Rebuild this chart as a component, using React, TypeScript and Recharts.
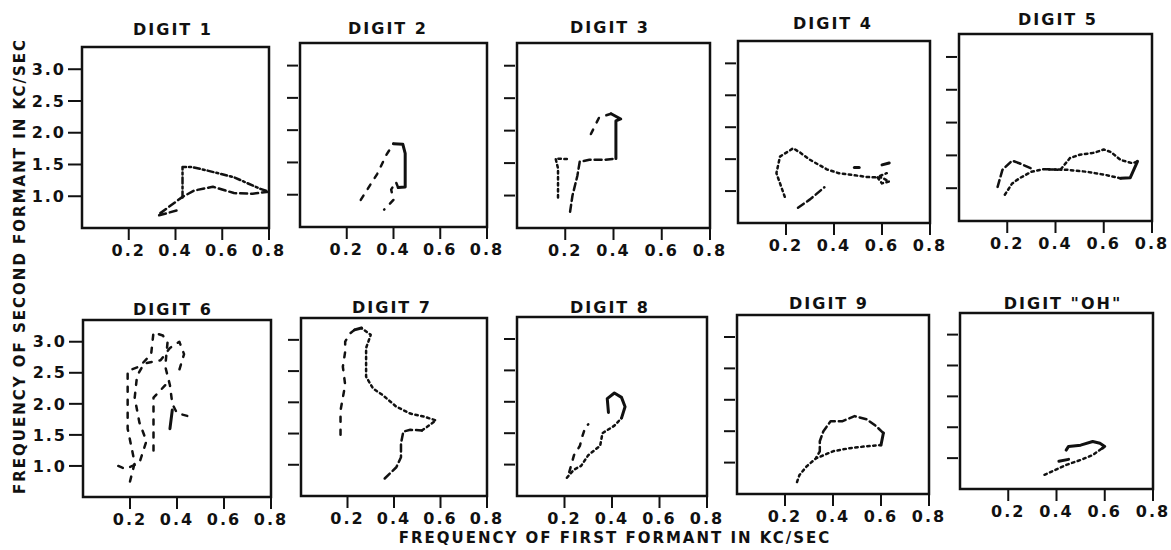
import React from 'react';
import { ScatterChart, Scatter, XAxis, YAxis, ReferenceArea } from 'recharts';

type Pt = [number, number];
type Seg = { style: string; pts: Pt[] };

// ---- tick values ----
const xTicks = [0.2, 0.4, 0.6, 0.8];
const yTicks = [1.0, 1.5, 2.0, 2.5, 3.0];

// ---- titles ----
const titles = ['DIGIT 1', 'DIGIT 2', 'DIGIT 3', 'DIGIT 4', 'DIGIT 5', 'DIGIT 6', 'DIGIT 7', 'DIGIT 8', 'DIGIT 9', 'DIGIT "OH"'];
const xAxisTitle = 'FREQUENCY OF FIRST FORMANT IN KC/SEC';
const yAxisTitle = 'FREQUENCY OF SECOND FORMANT IN KC/SEC';

// ---- formant trajectories (F1, F2) in kc/sec ----
const digit1Upper: Pt[] = [[0.43, 0.98], [0.43, 1.46], [0.47, 1.46], [0.53, 1.41], [0.65, 1.3], [0.76, 1.12], [0.8, 1.07]];
const digit1Lower: Pt[] = [[0.8, 1.07], [0.73, 1.04], [0.65, 1.05], [0.56, 1.15], [0.48, 1.09], [0.43, 0.99], [0.33, 0.72]];
const digit1Tail: Pt[] = [[0.33, 0.7], [0.42, 0.79]];

const digit2Rise: Pt[] = [[0.26, 0.92], [0.33, 1.32], [0.37, 1.62], [0.4, 1.79]];
const digit2Steady: Pt[] = [[0.4, 1.79], [0.44, 1.78], [0.45, 1.64], [0.45, 1.12], [0.42, 1.11]];
const digit2Fall: Pt[] = [[0.42, 1.11], [0.41, 1.2], [0.39, 1.08], [0.4, 0.92], [0.36, 0.77]];

const digit3Left: Pt[] = [[0.17, 0.97], [0.17, 1.2], [0.17, 1.42], [0.16, 1.57], [0.22, 1.56]];
const digit3Rise: Pt[] = [[0.22, 0.75], [0.23, 1.0], [0.25, 1.3], [0.26, 1.52], [0.3, 1.55], [0.36, 1.55], [0.41, 1.57]];
const digit3Steady: Pt[] = [[0.41, 1.57], [0.41, 2.15], [0.43, 2.18], [0.39, 2.26]];
const digit3Back: Pt[] = [[0.39, 2.26], [0.34, 2.2], [0.3, 1.9]];

const digit4Rise: Pt[] = [[0.25, 0.74], [0.3, 0.87], [0.36, 1.06]];
const digit4Loop: Pt[] = [[0.195, 0.91], [0.16, 1.28], [0.175, 1.54], [0.23, 1.67], [0.26, 1.6], [0.3, 1.49], [0.37, 1.34], [0.42, 1.28], [0.48, 1.25], [0.54, 1.22], [0.6, 1.21], [0.63, 1.15], [0.6, 1.12], [0.58, 1.22], [0.62, 1.28]];
const digit4DashA: Pt[] = [[0.485, 1.37], [0.505, 1.37]];
const digit4DashB: Pt[] = [[0.6, 1.41], [0.63, 1.44]];

const digit5Upper: Pt[] = [[0.19, 0.9], [0.22, 1.07], [0.25, 1.15], [0.3, 1.25], [0.35, 1.29], [0.42, 1.28], [0.46, 1.46], [0.5, 1.51], [0.56, 1.54], [0.6, 1.59], [0.63, 1.55], [0.67, 1.43], [0.72, 1.38], [0.74, 1.41]];
const digit5Steady: Pt[] = [[0.74, 1.41], [0.71, 1.16], [0.67, 1.15]];
const digit5Lower: Pt[] = [[0.67, 1.15], [0.61, 1.2], [0.53, 1.25], [0.45, 1.28], [0.35, 1.29]];
const digit5Left: Pt[] = [[0.16, 1.02], [0.18, 1.28], [0.22, 1.42], [0.25, 1.38], [0.3, 1.3]];

const digit6A: Pt[] = [[0.2, 0.75], [0.22, 1.05], [0.19, 1.6], [0.19, 2.05], [0.19, 2.53], [0.24, 2.6], [0.29, 2.8], [0.3, 3.15], [0.34, 3.1], [0.36, 3.0], [0.35, 2.6], [0.37, 2.3], [0.38, 2.0], [0.4, 1.85], [0.45, 1.8], [0.43, 1.86]];
const digit6B: Pt[] = [[0.15, 1.0], [0.18, 0.95], [0.24, 1.05], [0.27, 1.4], [0.24, 1.7], [0.22, 2.1], [0.23, 2.45], [0.26, 2.65], [0.33, 2.7], [0.37, 2.9], [0.41, 3.0], [0.43, 2.8], [0.41, 2.55]];
const digit6C: Pt[] = [[0.3, 1.25], [0.3, 1.75], [0.3, 2.1], [0.35, 2.3]];
const digit6D: Pt[] = [[0.37, 1.6], [0.38, 1.9]];

const digit7Rise: Pt[] = [[0.36, 0.78], [0.41, 0.96], [0.43, 1.12], [0.43, 1.34], [0.44, 1.53], [0.47, 1.56], [0.52, 1.55]];
const digit7Arc: Pt[] = [[0.52, 1.55], [0.54, 1.6], [0.58, 1.71], [0.53, 1.77], [0.47, 1.82], [0.41, 1.93], [0.35, 2.12], [0.31, 2.22], [0.28, 2.41], [0.28, 2.68], [0.28, 2.87], [0.3, 3.08], [0.26, 3.19]];
const digit7Top: Pt[] = [[0.26, 3.19], [0.23, 3.16]];
const digit7Fall: Pt[] = [[0.23, 3.16], [0.21, 3.1], [0.19, 2.97], [0.19, 2.81], [0.18, 2.57], [0.19, 2.28], [0.17, 1.87], [0.17, 1.42]];

const digit8Rise: Pt[] = [[0.21, 0.79], [0.24, 0.92], [0.27, 0.98], [0.3, 1.15], [0.35, 1.3], [0.36, 1.5], [0.41, 1.62], [0.44, 1.74]];
const digit8Hook: Pt[] = [[0.44, 1.74], [0.455, 1.92], [0.44, 2.07], [0.41, 2.14], [0.38, 2.05], [0.385, 1.83]];
const digit8Left: Pt[] = [[0.22, 0.88], [0.24, 1.15], [0.265, 1.3], [0.275, 1.45], [0.29, 1.62], [0.3, 1.64]];

const digit9Lower: Pt[] = [[0.25, 0.69], [0.26, 0.8], [0.29, 0.94], [0.33, 1.07], [0.35, 1.1], [0.4, 1.18], [0.47, 1.23], [0.54, 1.26], [0.6, 1.28]];
const digit9Steady: Pt[] = [[0.6, 1.28], [0.61, 1.47]];
const digit9Upper: Pt[] = [[0.61, 1.47], [0.58, 1.58], [0.54, 1.69], [0.49, 1.74], [0.44, 1.66], [0.39, 1.66], [0.36, 1.5], [0.345, 1.34], [0.345, 1.18], [0.33, 1.08]];

const digitOhRise: Pt[] = [[0.35, 0.73], [0.39, 0.8], [0.44, 0.89], [0.5, 0.97], [0.55, 1.05], [0.59, 1.16]];
const digitOhSteady: Pt[] = [[0.59, 1.16], [0.6, 1.19], [0.58, 1.24], [0.55, 1.27], [0.5, 1.21], [0.45, 1.19], [0.44, 1.13]];
const digitOhDash: Pt[] = [[0.41, 0.95], [0.45, 0.98]];

const panelSegments: Seg[][] = [
  [{ style: 'dashdot', pts: digit1Upper }, { style: 'dash', pts: digit1Lower }, { style: 'dash', pts: digit1Tail }],
  [{ style: 'sparse', pts: digit2Rise }, { style: 'solid', pts: digit2Steady }, { style: 'sparse', pts: digit2Fall }],
  [{ style: 'dot', pts: digit3Left }, { style: 'dash', pts: digit3Rise }, { style: 'solid', pts: digit3Steady }, { style: 'sparse', pts: digit3Back }],
  [{ style: 'dash', pts: digit4Rise }, { style: 'dot', pts: digit4Loop }, { style: 'solid', pts: digit4DashA }, { style: 'solid', pts: digit4DashB }],
  [{ style: 'dot', pts: digit5Upper }, { style: 'solid', pts: digit5Steady }, { style: 'dot', pts: digit5Lower }, { style: 'dash', pts: digit5Left }],
  [{ style: 'sparse', pts: digit6A }, { style: 'sparse', pts: digit6B }, { style: 'sparse', pts: digit6C }, { style: 'solid', pts: digit6D }],
  [{ style: 'dash', pts: digit7Rise }, { style: 'dot', pts: digit7Arc }, { style: 'solid', pts: digit7Top }, { style: 'sparse', pts: digit7Fall }],
  [{ style: 'dot', pts: digit8Rise }, { style: 'solid', pts: digit8Hook }, { style: 'sparse', pts: digit8Left }],
  [{ style: 'dot', pts: digit9Lower }, { style: 'solid', pts: digit9Steady }, { style: 'dash', pts: digit9Upper }],
  [{ style: 'dot', pts: digitOhRise }, { style: 'solid', pts: digitOhSteady }, { style: 'solid', pts: digitOhDash }],
];

// ---- layout (page pixels of each plot frame) ----
const boxes = [
  { l: 82, t: 47, r: 269, b: 228 },
  { l: 300, t: 43, r: 487, b: 227 },
  { l: 517, t: 43, r: 710, b: 228 },
  { l: 738, t: 41, r: 930, b: 223 },
  { l: 959, t: 34, r: 1152, b: 221 },
  { l: 83, t: 320, r: 271, b: 497 },
  { l: 301, t: 318, r: 487, b: 496 },
  { l: 517, t: 317, r: 707, b: 496 },
  { l: 737, t: 315, r: 929, b: 494 },
  { l: 960, t: 313, r: 1153, b: 489 },
];
const titlePos = [
  { x: 173, y: 29 }, { x: 388, y: 28 }, { x: 610, y: 27 }, { x: 833, y: 23 }, { x: 1058, y: 19 },
  { x: 173, y: 309 }, { x: 392, y: 307 }, { x: 610, y: 307 }, { x: 829, y: 303 }, { x: 1063, y: 303 },
];

const INK = '#111';
const FONT = '"DejaVu Sans", sans-serif';
const DASH: Record<string, string | undefined> = {
  dash: '7 4',
  dot: '2.5 3.5',
  dashdot: '6 3 2 3',
  sparse: '5 8',
  solid: undefined,
};

const YW = 54;
const XH = 38;
const MT = 6;
const MR = 20;
const Y_MIN = 0.5;
const Y_MAX = 3.35;

const Empty = () => <g />;

const DetachedTick = (props: any) => {
  const { y } = props;
  return <line x1={YW - 13} x2={YW - 2} y1={y} y2={y} stroke={INK} strokeWidth={2} />;
};

function Panel({ idx }: { idx: number }) {
  const box = boxes[idx];
  const w = box.r - box.l;
  const h = box.b - box.t;
  const showY = idx === 0 || idx === 5;
  const tickStyle = { fill: INK, fontSize: 16, fontWeight: 'bold', fontFamily: FONT, letterSpacing: 2 };
  return (
    <div style={{ position: 'absolute', left: box.l - YW, top: box.t - MT }}>
      <ScatterChart width={YW + w + MR} height={MT + h + XH} margin={{ top: MT, right: MR, bottom: 0, left: 0 }}>
        <XAxis
          type="number"
          dataKey="x"
          domain={[0, 0.8]}
          ticks={xTicks}
          allowDataOverflow
          interval={0}
          height={XH}
          axisLine={false}
          tickLine={{ stroke: INK, strokeWidth: 2 }}
          tickSize={12}
          tickMargin={5}
          tick={tickStyle}
          tickFormatter={(v: number) => v.toFixed(1)}
        />
        <YAxis
          type="number"
          dataKey="y"
          domain={[Y_MIN, Y_MAX]}
          ticks={yTicks}
          allowDataOverflow
          interval={0}
          width={YW}
          axisLine={false}
          tickLine={showY ? { stroke: INK, strokeWidth: 2 } : false}
          tickSize={showY ? 14 : 10}
          tickMargin={2}
          tick={showY ? tickStyle : DetachedTick}
          tickFormatter={(v: number) => v.toFixed(1)}
        />
        <ReferenceArea x1={0} x2={0.8} y1={Y_MIN} y2={Y_MAX} fill="none" stroke={INK} strokeWidth={2.5} ifOverflow="visible" />
        {panelSegments[idx].map((s, i) => (
          <Scatter
            key={i}
            data={s.pts.map(([x, y]) => ({ x, y }))}
            shape={Empty}
            line={{
              stroke: INK,
              strokeWidth: s.style === 'solid' ? 3 : 2.5,
              strokeDasharray: DASH[s.style],
              strokeLinecap: 'round',
              strokeLinejoin: 'round',
            }}
            lineType="joint"
            isAnimationActive={false}
          />
        ))}
      </ScatterChart>
    </div>
  );
}

export default function App() {
  return (
    <div style={{ position: 'absolute', left: 0, top: 0, width: 1171, height: 550, background: '#fff', fontFamily: FONT, color: INK }}>
      {boxes.map((_, i) => (
        <Panel key={i} idx={i} />
      ))}
      {titles.map((t, i) => (
        <div
          key={t}
          style={{
            position: 'absolute',
            left: titlePos[i].x,
            top: titlePos[i].y,
            transform: 'translate(-50%, -50%)',
            whiteSpace: 'nowrap',
            fontSize: 16,
            fontWeight: 'bold',
            letterSpacing: 2,
          }}
        >
          {t}
        </div>
      ))}
      <div
        style={{
          position: 'absolute',
          left: 615,
          top: 538,
          transform: 'translate(-50%, -50%)',
          whiteSpace: 'nowrap',
          fontSize: 15,
          fontWeight: 'bold',
          letterSpacing: 2,
        }}
      >
        {xAxisTitle}
      </div>
      <div
        style={{
          position: 'absolute',
          left: 20,
          top: 266,
          transform: 'translate(-50%, -50%) rotate(-90deg)',
          whiteSpace: 'nowrap',
          fontSize: 15,
          fontWeight: 'bold',
          letterSpacing: 2,
        }}
      >
        {yAxisTitle}
      </div>
    </div>
  );
}
